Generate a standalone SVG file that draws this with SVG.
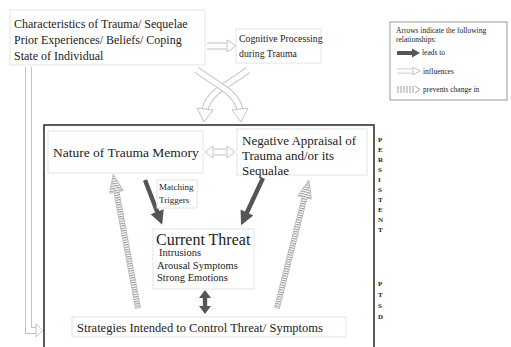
<svg xmlns="http://www.w3.org/2000/svg" width="511" height="347" viewBox="0 0 511 347">
  <defs>
    <style>
      .faint { fill: #fff; stroke: #e4e4e4; stroke-width: 1; }
      .frame { fill: none; stroke: #333; stroke-width: 1.6; }
      .hOut { fill: none; stroke: #c2c2c2; stroke-width: 7; stroke-linejoin: miter; }
      .hIn { fill: none; stroke: #fff; stroke-width: 5; }
      .hHead { fill: #fff; stroke: #c2c2c2; stroke-width: 1; stroke-linejoin: miter; }
      .dark { fill: #555; stroke: none; }
      .dotArrow { fill: url(#stripes); stroke: #b8b8b8; stroke-width: 0.8; }
      .letters { font-size: 7px; font-weight: bold; }
    </style>
    <!-- horizontal ladder stripes for the "prevents change" arrows -->
    <pattern id="stripes" patternUnits="userSpaceOnUse" width="4" height="2.4">
      <rect width="4" height="2.4" fill="#fff"/>
      <rect width="4" height="1.1" fill="#9a9a9a"/>
    </pattern>
  </defs>

  <rect width="511" height="347" fill="#fff"/>

  <!-- outer frame of the maintenance cycle -->
  <rect class="frame" x="44" y="125" width="330" height="240"/>

  <g id="connectors">
    <!-- long influence arrow from the top box down to the strategies -->
    <path class="hOut" d="M28.5,67 V330.5 H37"/>
    <path class="hIn" d="M28.5,67 V330.5 H37"/>
    <polygon class="hHead" points="36,324 43,330.5 36,337"/>

    <!-- characteristics -> cognitive processing -->
    <path class="hOut" d="M207,46 H228"/>
    <path class="hIn" d="M207,46 H228"/>
    <polygon class="hHead" points="227,40 236,46 227,52"/>

    <!-- crossed influence arrows into the cycle -->
    <path class="hOut" d="M248,70 C230,84 208,92 205,110"/>
    <path class="hIn" d="M248,70 C230,84 208,92 205,110"/>
    <polygon class="hHead" points="197,108 204,122 213,110"/>
    <path class="hOut" d="M197,70 C215,84 237,92 240,110"/>
    <path class="hIn" d="M197,70 C215,84 237,92 240,110"/>
    <polygon class="hHead" points="232,110 241,122 248,108"/>

    <!-- memory <-> appraisal -->
    <path class="hOut" d="M212,152 H228"/>
    <path class="hIn" d="M211,152 H229"/>
    <polygon class="hHead" points="213,146 205,152 213,158"/>
    <polygon class="hHead" points="227,146 235,152 227,158"/>

    <!-- leads-to arrows -->
    <g transform="translate(145,180) rotate(-21)">
      <rect class="dark" x="-2.2" y="0" width="4.4" height="36"/>
      <polygon class="dark" points="-7,34 7,34 0,48"/>
    </g>
    <g transform="translate(263,178) rotate(25)">
      <rect class="dark" x="-2.2" y="0" width="4.4" height="40"/>
      <polygon class="dark" points="-7,38 7,38 0,52"/>
    </g>
    <!-- threat <-> strategies -->
    <g transform="translate(205,290)">
      <rect class="dark" x="-2.2" y="6" width="4.4" height="12"/>
      <polygon class="dark" points="-6,8 6,8 0,0"/>
      <polygon class="dark" points="-6,16 6,16 0,24"/>
    </g>

    <!-- prevents-change arrows from strategies -->
    <g transform="translate(138,308) rotate(-10.5)">
      <polygon class="dotArrow" points="-2.5,0 2.5,0 2.5,-118 7,-118 0,-136 -7,-118 -2.5,-118"/>
    </g>
    <g transform="translate(277,308) rotate(14)">
      <polygon class="dotArrow" points="-2.5,0 2.5,0 2.5,-114 7,-114 0,-132 -7,-114 -2.5,-114"/>
    </g>
  </g>

  <g font-family="'Liberation Serif', 'DejaVu Serif', 'Times New Roman', serif" fill="#222">
    <g id="characteristics">
      <rect class="faint" x="10" y="10" width="195" height="55"/>
      <text font-size="12" x="14" y="28">Characteristics of Trauma/ Sequelae</text>
      <text font-size="12" x="14" y="44">Prior Experiences/ Beliefs/ Coping</text>
      <text font-size="12" x="14" y="60">State of Individual</text>
    </g>

    <g id="cognitive-processing">
      <rect class="faint" x="236" y="29" width="85" height="34"/>
      <text font-size="9.8" x="239" y="42">Cognitive Processing</text>
      <text font-size="9.8" x="239" y="57">during Trauma</text>
    </g>

    <g id="legend">
      <rect x="390" y="22" width="117" height="78" fill="#fff" stroke="#999" stroke-width="1"/>
      <text font-size="7.5" x="396" y="33">Arrows indicate the following</text>
      <text font-size="7.5" x="396" y="42">relationships:</text>
      <rect class="dark" x="397" y="51" width="16" height="4"/>
      <polygon class="dark" points="412,48.5 420,53 412,57.5"/>
      <text font-size="7.5" x="422" y="55">leads to</text>
      <path class="hOut" d="M397,71 H413" style="stroke-width:5"/>
      <path class="hIn" d="M397,71 H414" style="stroke-width:3.4"/>
      <polygon class="hHead" points="413,67 420,71 413,75"/>
      <text font-size="7.5" x="423" y="74">influences</text>
      <g stroke="#888" stroke-width="0.8">
        <line x1="398" y1="86" x2="398" y2="93"/>
        <line x1="401" y1="86" x2="401" y2="93"/>
        <line x1="404" y1="86" x2="404" y2="93"/>
        <line x1="407" y1="86" x2="407" y2="93"/>
        <line x1="410" y1="86" x2="410" y2="93"/>
        <line x1="413" y1="86" x2="413" y2="93"/>
      </g>
      <polyline points="415,86 420,89.5 415,93" fill="none" stroke="#888" stroke-width="0.8"/>
      <text font-size="7.5" x="423" y="92">prevents change in</text>
    </g>

    <g id="trauma-memory">
      <rect class="faint" x="48" y="131" width="155" height="42"/>
      <text font-size="13.5" x="53" y="157">Nature of Trauma Memory</text>
    </g>

    <g id="negative-appraisal">
      <rect class="faint" x="237" y="129" width="130" height="46"/>
      <text font-size="13" x="242" y="145">Negative Appraisal of</text>
      <text font-size="13" x="242" y="160">Trauma and/or its</text>
      <text font-size="13" x="242" y="175">Sequalae</text>
    </g>

    <g id="matching-triggers">
      <rect class="faint" x="157" y="180" width="40" height="28"/>
      <text font-size="9" x="159" y="190">Matching</text>
      <text font-size="9" x="159" y="203">Triggers</text>
    </g>

    <g id="current-threat">
      <rect class="faint" x="153" y="229" width="101" height="60"/>
      <text font-size="16" x="156" y="245">Current Threat</text>
      <text font-size="10.5" x="159" y="256">Intrusions</text>
      <text font-size="10.5" x="157" y="269">Arousal Symptoms</text>
      <text font-size="10.5" x="157" y="281">Strong Emotions</text>
    </g>

    <g id="strategies">
      <rect class="faint" x="72" y="317" width="274" height="20"/>
      <text font-size="12.5" x="77" y="332">Strategies Intended to Control Threat/ Symptoms</text>
    </g>

    <g id="side-label" class="letters">
      <text x="378" y="142">P</text>
      <text x="378" y="152">E</text>
      <text x="378" y="162">R</text>
      <text x="378" y="172">S</text>
      <text x="378" y="182">I</text>
      <text x="378" y="192">S</text>
      <text x="378" y="202">T</text>
      <text x="378" y="212">E</text>
      <text x="378" y="222">N</text>
      <text x="378" y="232">T</text>
      <text x="378" y="286">P</text>
      <text x="378" y="297">T</text>
      <text x="378" y="308">S</text>
      <text x="378" y="319">D</text>
    </g>
  </g>
</svg>
